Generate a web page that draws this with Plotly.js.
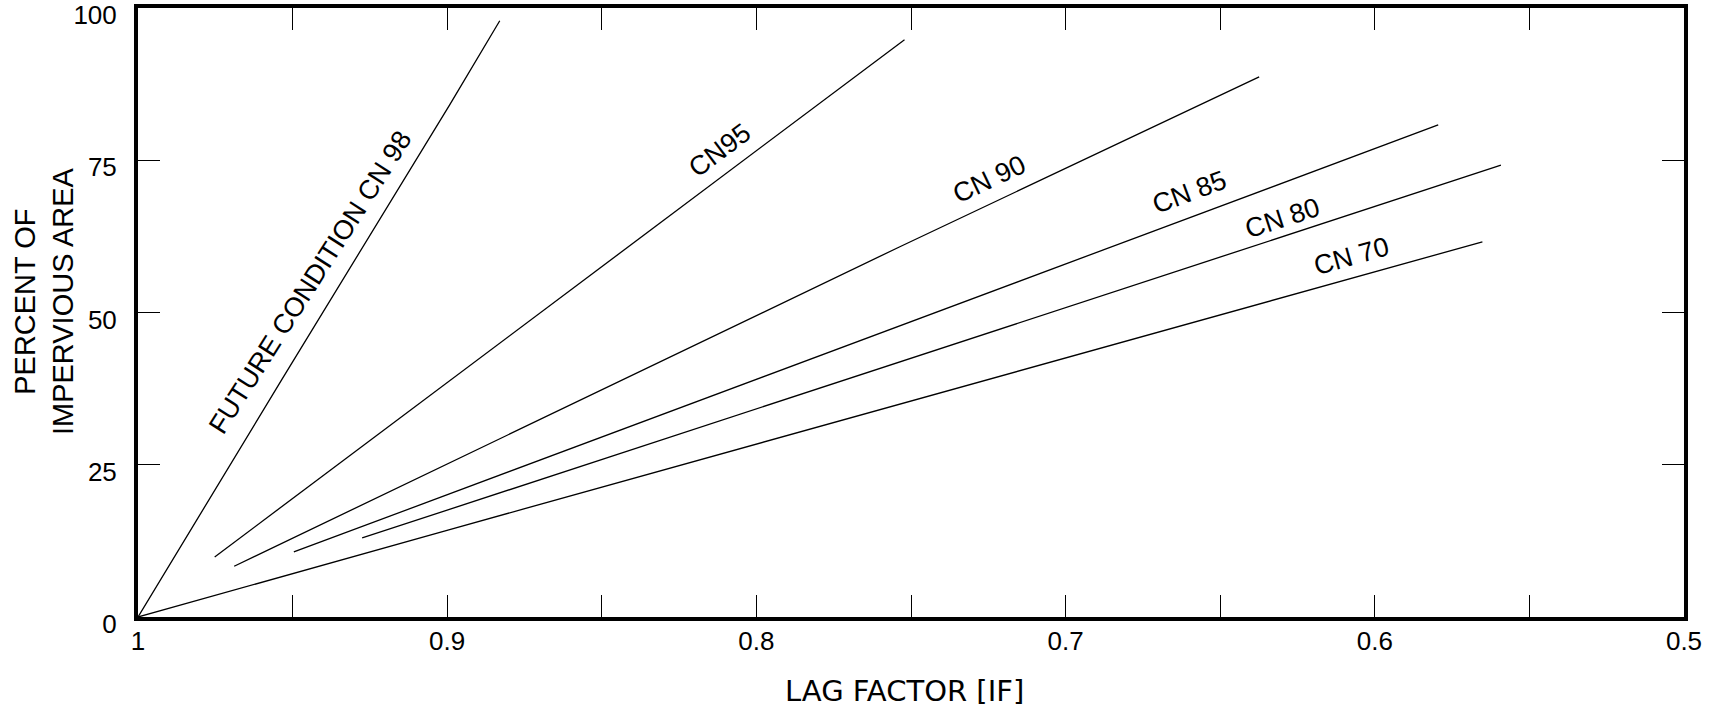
<!DOCTYPE html>
<html>
<head>
<meta charset="utf-8">
<script src="https://cdn.plot.ly/plotly-3.0.1.min.js"></script>
<style>html,body{margin:0;padding:0;background:#fff;}#chart{width:1723px;height:720px;}</style>
</head>
<body>
<div id="chart"></div>
<script>
// Lag factor (x) vs percent impervious area (y)
const cn98X = [1, 0.9536, 0.8992, 0.883];
const cn98Y = [0, 38.9, 84.1, 97.9];
const cn95X = [0.9752, 0.8296, 0.7521];
const cn95Y = [9.86, 65.3, 94.8];
const cn90X = [0.9689, 0.7536, 0.6374];
const cn90Y = [8.33, 60.8, 88.7];
const cn85X = [0.9496, 0.7137, 0.5795];
const cn85Y = [10.68, 55.3, 80.8];
const cn80X = [0.9275, 0.6727, 0.5592];
const cn80Y = [12.98, 55.3, 74.2];
const cn70X = [1, 0.8992, 0.5652];
const cn70Y = [0, 14.36, 61.6];

const labelText = ["FUTURE CONDITION CN 98", "CN95", "CN 90", "CN 85", "CN 80", "CN 70"];
const labelX = [0.9442, 0.8118, 0.7245, 0.6598, 0.6297, 0.6074];
const labelY = [55.0, 76.7, 71.9, 69.8, 65.6, 59.3];
const labelAngle = [-57.5, -37, -25.5, -20.5, -18, -15.6];

const xTickVals = [1, 0.95, 0.9, 0.85, 0.8, 0.75, 0.7, 0.65, 0.6, 0.55, 0.5];
const xTickText = ["1", "", "0.9", "", "0.8", "", "0.7", "", "0.6", "", "0.5"];
const yTickVals = [0, 25, 50, 75, 100];
const yTickText = ["0", "25", "50", "75", "100"];

const xTitle = "LAG FACTOR [IF]";
const yTitle = "PERCENT OF<br>IMPERVIOUS AREA";

const series = [[cn98X, cn98Y], [cn95X, cn95Y], [cn90X, cn90Y], [cn85X, cn85Y], [cn80X, cn80Y], [cn70X, cn70Y]];
const traces = series.map(s => ({
  x: s[0], y: s[1], type: "scatter", mode: "lines",
  line: {color: "#000", width: 1.3}, hoverinfo: "skip"
}));

const font = "Liberation Sans, Arial, sans-serif";
const annotations = labelText.map((t, i) => ({
  x: labelX[i], y: labelY[i], xref: "x", yref: "y", text: t,
  showarrow: false, textangle: labelAngle[i],
  font: {family: font, size: 27, color: "#000"},
  xanchor: "center", yanchor: "middle"
}));
// axis titles placed as paper annotations to match the reference placement
annotations.push({
  x: 0.4955, y: -0.1215, xref: "paper", yref: "paper", text: xTitle,
  showarrow: false, xanchor: "center", yanchor: "middle",
  font: {family: "DejaVu Sans, sans-serif", size: 29, color: "#000"}
});
annotations.push({
  x: -0.0607, y: 0.519, xref: "paper", yref: "paper", text: yTitle,
  showarrow: false, textangle: -90, xanchor: "center", yanchor: "middle",
  font: {family: font, size: 29, color: "#000"}
});

const layout = {
  width: 1723, height: 720,
  margin: {l: 138, r: 39, t: 8, b: 103},
  paper_bgcolor: "#fff", plot_bgcolor: "#fff",
  showlegend: false,
  font: {family: font, color: "#000"},
  xaxis: {
    range: [1, 0.5], showgrid: false, zeroline: false,
    showline: true, linewidth: 4, linecolor: "#000", mirror: "ticks",
    ticks: "inside", ticklen: 22, tickwidth: 1, tickcolor: "#000",
    tickvals: xTickVals, ticktext: xTickText,
    tickfont: {family: font, size: 26, color: "#000"},
    ticklabelstandoff: -2, ticklabeloverflow: "allow",
    automargin: false
  },
  yaxis: {
    range: [0, 100], showgrid: false, zeroline: false,
    showline: true, linewidth: 4, linecolor: "#000", mirror: "ticks",
    ticks: "inside", ticklen: 22, tickwidth: 1, tickcolor: "#000",
    tickvals: yTickVals, ticktext: yTickText,
    tickfont: {family: font, size: 26, color: "#000"},
    ticklabelstandoff: 12, ticklabelshift: 7, ticklabeloverflow: "allow",
    automargin: false
  },
  annotations: annotations
};

Plotly.newPlot("chart", traces, layout, {displayModeBar: false, staticPlot: true});
</script>
</body>
</html>
